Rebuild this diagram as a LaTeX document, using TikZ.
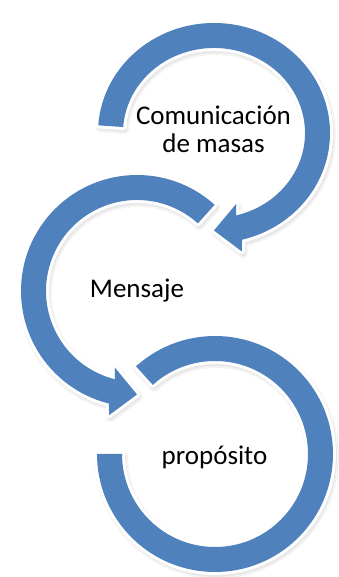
\documentclass[tikz,border=0pt]{standalone}
\usepackage{fontspec}
\setmainfont{Carlito}
\usetikzlibrary{calc}
\definecolor{accblue}{HTML}{4F81BD}
\tikzset{
  shadowA/.style={fill=black, fill opacity=0.09, draw=black, draw opacity=0.045, line width=9pt, line join=round},
  shadowB/.style={draw=black, draw opacity=0.05, line width=5pt, line join=round},
  outline/.style={draw=white, line width=6pt, line join=round},
  ringfill/.style={fill=accblue},
  lbl/.style={font=\fontsize{27}{28}\selectfont, inner sep=0pt, align=center, text=black}
}
\begin{document}
\begin{tikzpicture}[x=1pt,y=1pt]
\useasboundingbox (0,0) rectangle (339,577);
\coordinate (C1) at (214,444);
\coordinate (C2) at (137,286);
\coordinate (C3) at (215,123);
\coordinate (A1b) at ($(C1)+(-76:103.5 and 97.5)$);
\coordinate (A1t) at ($(C1)+(-90:103.5 and 97.5)$);
\coordinate (A1o) at ($(A1b)!24pt!90:(A1t)$);
\coordinate (A1i) at ($(A1b)!24pt!-90:(A1t)$);
\coordinate (A2b) at ($(C2)+(256:103.5)$);
\coordinate (A2t) at ($(C2)+(270:103.5)$);
\coordinate (A2o) at ($(A2b)!24pt!-90:(A2t)$);
\coordinate (A2i) at ($(A2b)!24pt!90:(A2t)$);
\def\shapeA{($(C1)+(176:116 and 110)$) arc[start angle=176, end angle=-76, x radius=116, y radius=110] -- (A1o) -- (A1t) -- (A1i) -- ($(C1)+(-76:91 and 85)$) arc[start angle=-76, end angle=176, x radius=91, y radius=85] -- cycle}
\def\shapeB{($(C2)+(48:116)$) arc[start angle=48, end angle=256, radius=116] -- (A2o) -- (A2t) -- (A2i) -- ($(C2)+(256:91)$) arc[start angle=256, end angle=48, radius=91] -- cycle}
\def\shapeC{($(C3)+(132:118)$) arc[start angle=132, end angle=-180, radius=118] -- ($(C3)+(-180:93)$) arc[start angle=-180, end angle=132, radius=93] -- cycle}
\begin{scope}[transform canvas={shift={(1.5,-2.5)}}]
  \path[shadowA] \shapeA;
  \path[shadowB] \shapeA;
  \path[shadowA] \shapeB;
  \path[shadowB] \shapeB;
  \path[shadowA] \shapeC;
  \path[shadowB] \shapeC;
\end{scope}
\path[outline] \shapeA;
\path[ringfill] \shapeA;
\path[outline] \shapeB;
\path[ringfill] \shapeB;
\path[outline] \shapeC;
\path[ringfill] \shapeC;
\node[lbl] (t1) at (213.5,448) {Comunicación\\de masas};
\node[lbl, anchor=base] (t2) at (137,279) {Mensaje};
\node[lbl, anchor=base] (t3) at (214.5,112) {propósito};
\end{tikzpicture}
\end{document}
